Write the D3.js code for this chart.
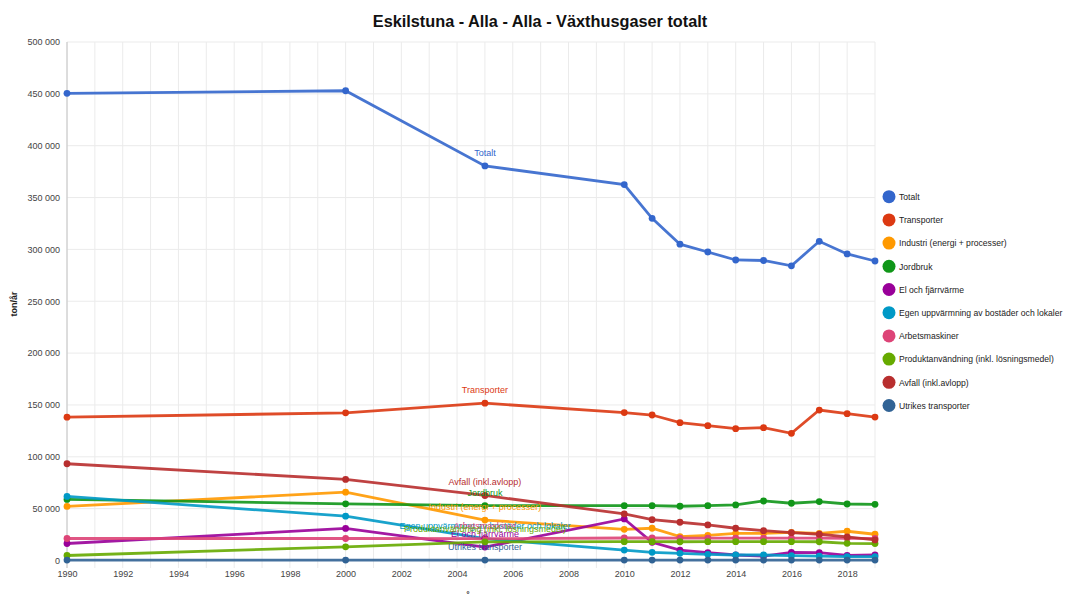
<!DOCTYPE html>
<html>
<head>
<meta charset="utf-8">
<script src="https://cdn.jsdelivr.net/npm/d3@7"></script>
<style>
  body { margin: 0; background: #fff; }
  svg { font-family: "Liberation Sans", Arial, sans-serif; }
</style>
</head>
<body>
<svg id="chart" width="1069" height="594"></svg>
<script>
var years = [1990, 2000, 2005, 2010, 2011, 2012, 2013, 2014, 2015, 2016, 2017, 2018, 2019];

var totalt        = [450500, 453000, 380500, 362500, 330000, 305000, 297500, 289800, 289300, 284200, 307800, 295600, 288800];
var transporter   = [138200, 142400, 151700, 142600, 140300, 132900, 130000, 127100, 128100, 122600, 145100, 141600, 138300];
var industri      = [52100, 65900, 39000, 30100, 31100, 23000, 24300, 26200, 26200, 27200, 26200, 28200, 25300];
var jordbruk      = [58900, 54700, 53000, 52900, 52900, 52300, 52900, 53600, 57400, 55200, 56800, 54500, 54200];
var elFjarrvarme  = [16400, 30900, 13000, 40100, 17600, 10100, 7500, 5300, 4300, 7900, 7500, 5000, 5300];
var egenUppv      = [61800, 42700, 21000, 10100, 7900, 6900, 6000, 5300, 5300, 4700, 4300, 3700, 3700];
var arbetsmaskiner= [21200, 21200, 21000, 21700, 21700, 21600, 21600, 21500, 21500, 21500, 21500, 21400, 21300];
var produktanv    = [4800, 13200, 18000, 18200, 18200, 18100, 18200, 18200, 18200, 18200, 18100, 16600, 16300];
var avfall        = [93300, 78200, 62700, 44900, 39400, 36900, 34300, 31100, 28800, 26800, 25300, 22700, 19800];
var utrikes       = [400, 400, 400, 400, 400, 400, 400, 400, 400, 400, 400, 400, 400];

var seriesNames = ["Totalt", "Transporter", "Industri (energi + processer)", "Jordbruk",
  "El och fjärrvärme", "Egen uppvärmning av bostäder och lokaler", "Arbetsmaskiner",
  "Produktanvändning (inkl. lösningsmedel)", "Avfall (inkl.avlopp)", "Utrikes transporter"];
var seriesValues = [totalt, transporter, industri, jordbruk, elFjarrvarme, egenUppv,
  arbetsmaskiner, produktanv, avfall, utrikes];
var colors = ["#3366cc", "#dc3912", "#ff9900", "#109618", "#990099", "#0099c6",
  "#dd4477", "#66aa00", "#b82e2e", "#316395"];

var yTicks = [0, 50000, 100000, 150000, 200000, 250000, 300000, 350000, 400000, 450000, 500000];
var labelYear = 2005;

var svg = d3.select("#chart");
var plotL = 67, plotR = 875, plotT = 42, plotB = 560.5;

var x = d3.scaleLinear().domain([1990, 2019]).range([plotL, plotR]);
var y = d3.scaleLinear().domain([0, 500000]).range([plotB, plotT]);
var fmt = d3.formatLocale({decimal: ",", thousands: " ", grouping: [3], currency: ["", ""]}).format(",");

// title
svg.append("text")
    .attr("x", 540).attr("y", 27)
    .attr("text-anchor", "middle")
    .attr("font-size", 16.3).attr("font-weight", "bold")
    .attr("fill", "#111")
    .text("Eskilstuna - Alla - Alla - Växthusgaser totalt");

// grid
var grid = svg.append("g");
grid.selectAll("line.v")
    .data(d3.range(1990, 2020))
    .enter().append("line")
    .attr("x1", d => x(d)).attr("x2", d => x(d))
    .attr("y1", plotT).attr("y2", 568)
    .attr("stroke", "#ebebeb");
grid.selectAll("line.h")
    .data(yTicks)
    .enter().append("line")
    .attr("x1", plotL).attr("x2", plotR)
    .attr("y1", d => y(d)).attr("y2", d => y(d))
    .attr("stroke", "#ebebeb");
svg.append("line")
    .attr("x1", plotL).attr("x2", plotL).attr("y1", plotT).attr("y2", 568)
    .attr("stroke", "#c4c4c4");

// y axis
var yAxis = svg.append("g")
    .attr("transform", "translate(" + (plotL - 5) + ",0)")
    .call(d3.axisLeft(y).tickValues(yTicks).tickFormat(fmt).tickSize(0).tickPadding(2));
yAxis.select(".domain").remove();
yAxis.selectAll("text").attr("font-size", 9).attr("fill", "#444").attr("font-family", null);

// x axis
var xAxis = svg.append("g")
    .attr("transform", "translate(0,570)")
    .call(d3.axisBottom(x).tickValues(d3.range(1990, 2020, 2)).tickFormat(d3.format("d")).tickSize(0).tickPadding(1));
xAxis.select(".domain").remove();
xAxis.selectAll("text").attr("font-size", 9).attr("fill", "#444").attr("font-family", null);

// axis titles
svg.append("text")
    .attr("transform", "translate(17,304) rotate(-90)")
    .attr("text-anchor", "middle")
    .attr("font-size", 9).attr("font-weight", "bold").attr("fill", "#222")
    .text("ton/år");
svg.append("text")
    .attr("x", 470).attr("y", 600)
    .attr("text-anchor", "middle")
    .attr("font-size", 10).attr("font-weight", "bold").attr("fill", "#222")
    .text("år");

// lines
var line = d3.line().x((d, i) => x(years[i])).y(d => y(d));
var series = svg.append("g").selectAll("g")
    .data(seriesValues)
    .enter().append("g");

series.append("path")
    .attr("d", d => line(d))
    .attr("fill", "none")
    .attr("stroke", (d, i) => colors[i])
    .attr("stroke-width", 2.8)
    .attr("stroke-opacity", 0.9);

series.each(function(vals, si) {
  d3.select(this).selectAll("circle")
      .data(vals)
      .enter().append("circle")
      .attr("cx", (d, i) => x(years[i]))
      .attr("cy", d => y(d))
      .attr("r", 3.4)
      .attr("fill", colors[si]);
});

// annotations at 2005
var li = years.indexOf(labelYear);
svg.append("g").selectAll("text")
    .data(seriesValues)
    .enter().append("text")
    .attr("x", x(labelYear))
    .attr("y", d => y(d[li]) - 10)
    .attr("text-anchor", "middle")
    .attr("font-size", 9)
    .attr("fill", (d, i) => colors[i])
    .text((d, i) => seriesNames[i]);

// legend
var legend = svg.append("g").selectAll("g")
    .data(seriesNames)
    .enter().append("g")
    .attr("transform", (d, i) => "translate(889," + (196.7 + i * 23.2) + ")");
legend.append("circle").attr("r", 6.5).attr("fill", (d, i) => colors[i]);
legend.append("text")
    .attr("x", 10).attr("y", 3.3)
    .attr("font-size", 8.6).attr("fill", "#222")
    .text(d => d);
</script>
</body>
</html>
